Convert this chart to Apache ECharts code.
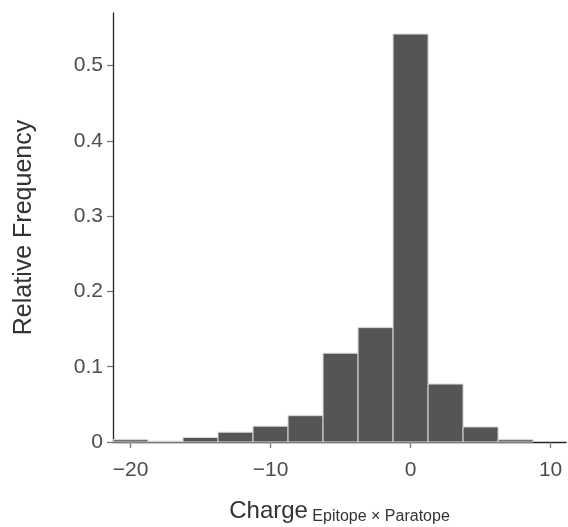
<!DOCTYPE html>
<html>
<head>
<meta charset="utf-8">
<script src="https://cdn.jsdelivr.net/npm/echarts@6/dist/echarts.min.js"></script>
<style>
  html, body { margin: 0; padding: 0; background: #fff; }
  #chart { width: 568px; height: 527px; }
</style>
</head>
<body>
<div id="chart"></div>
<script>
// histogram bins (centre of each bin) and their relative frequency
var binCenters = [-20, -17.5, -15, -12.5, -10, -7.5, -5, -2.5, 0, 2.5, 5, 7.5];
var binWidth = 2.5;
var relFreq = [0.003, 0.001, 0.006, 0.013, 0.021, 0.035, 0.118, 0.152, 0.542, 0.077, 0.020, 0.003];
var xTicks = [-20, -10, 0, 10];
var yTicks = [0, 0.1, 0.2, 0.3, 0.4, 0.5];

(function () {
    var myChart = echarts.init(document.getElementById('chart'));
    var fontFam = 'Liberation Sans, Arial, sans-serif';
    var data = [];
    for (var i = 0; i < binCenters.length; i++) {
        data.push([binCenters[i] - binWidth / 2, binCenters[i] + binWidth / 2, relFreq[i]]);
    }
    var option = {
        animation: false,
        grid: { left: 113, right: 2, top: 13, bottom: 85, outerBoundsMode: 'none' },
        xAxis: {
            type: 'value',
            min: -21.25,
            max: 11.1,
            interval: 10,
            splitLine: { show: false },
            axisLine: { onZero: false, lineStyle: { color: '#222', width: 1.3 } },
            axisTick: {
                show: true, length: 6, lineStyle: { color: '#777', width: 1.3 },
                customValues: xTicks
            },
            axisLabel: {
                color: '#4d4d4d', fontSize: 21, fontFamily: fontFam, margin: 18,
                customValues: xTicks,
                formatter: function (v) { return v < 0 ? '\u2212' + (-v) : String(v); }
            },
            name: '{a|Charge}{b| Epitope \u00d7 Paratope}',
            nameLocation: 'middle',
            nameGap: 57,
            nameTextStyle: {
                rich: {
                    a: { fontSize: 24, color: '#333', fontFamily: fontFam, verticalAlign: 'bottom', padding: [0, 0, 2, 0] },
                    b: { fontSize: 16, color: '#333', fontFamily: fontFam, verticalAlign: 'bottom' }
                }
            }
        },
        yAxis: {
            type: 'value',
            min: 0,
            max: 0.57,
            interval: 0.1,
            splitLine: { show: false },
            axisLine: { show: true, onZero: false, lineStyle: { color: '#222', width: 1.3 } },
            axisTick: {
                show: true, length: 6, lineStyle: { color: '#777', width: 1.3 },
                customValues: yTicks
            },
            axisLabel: {
                color: '#4d4d4d', fontSize: 21, fontFamily: fontFam, margin: 10,
                customValues: yTicks,
                formatter: function (v) { return v === 0 ? '0' : v.toFixed(1); }
            },
            name: 'Relative Frequency',
            nameLocation: 'middle',
            nameGap: 76,
            nameTextStyle: { fontSize: 25, color: '#333', fontFamily: fontFam }
        },
        series: [
            {
                type: 'custom',
                data: data,
                encode: { x: [0, 1], y: 2 },
                renderItem: function (params, api) {
                    var p0 = api.coord([api.value(0), 0]);
                    var p1 = api.coord([api.value(1), api.value(2)]);
                    return {
                        type: 'rect',
                        shape: { x: p0[0], y: p1[1], width: p1[0] - p0[0], height: p0[1] - p1[1] },
                        style: { fill: '#555555', stroke: '#d9d9d9', lineWidth: 1 }
                    };
                }
            }
        ]
    };
    myChart.setOption(option);
})();
</script>
</body>
</html>
